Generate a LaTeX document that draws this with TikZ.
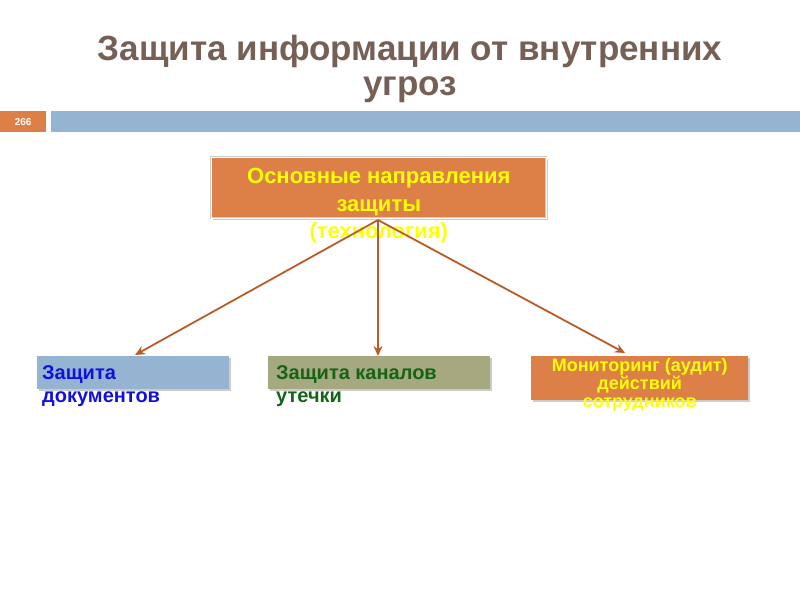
\documentclass[tikz,border=0pt]{standalone}
\usepackage{fontspec}
\setmainfont{Liberation Sans}
\usetikzlibrary{arrows.meta,shadows,positioning}
\definecolor{titlebrown}{RGB}{118,96,86}
\definecolor{slideorange}{RGB}{221,128,72}
\definecolor{barblue}{RGB}{149,180,210}
\definecolor{boxolive}{RGB}{166,168,128}
\definecolor{arrowbrown}{RGB}{184,92,40}
\definecolor{textyellow}{RGB}{255,255,0}
\definecolor{textblue}{RGB}{16,16,224}
\definecolor{textgreen}{RGB}{20,100,20}
\newcommand\tightlines{\lineskiplimit=-100pt\relax}
\tikzset{
  plainbox/.style={draw=none,inner sep=0pt,anchor=north west},
  topbox/.style={plainbox,fill=slideorange,draw=white,line width=1.5pt,
    drop shadow={shadow xshift=2pt,shadow yshift=-2pt,opacity=0.4}},
  lowbox/.style={plainbox,drop shadow={shadow xshift=2pt,shadow yshift=-2pt,opacity=0.4}},
  boxtext/.style={font=\fontsize{20}{23}\selectfont\bfseries,inner sep=0pt},
  branch/.style={draw=arrowbrown,line width=1.8pt,-{Stealth[length=10pt,width=9pt]}}
}
\begin{document}
\begin{tikzpicture}[x=1pt,y=-1pt]
  \useasboundingbox[fill=white] (0,0) rectangle (800,600);
  % title
  \node[text=titlebrown,font=\fontsize{35}{35}\selectfont\bfseries,align=center]
    (title) at (410,69) {Защита информации от внутренних\\угроз};
  % slide number and bar
  \node[plainbox,fill=slideorange,minimum width=46pt,minimum height=21pt]
    (slidenum) at (0,111) {};
  \node[text=white,font=\fontsize{10}{12}\selectfont\bfseries] (slidelabel)
    at (slidenum.center) {266};
  \node[plainbox,fill=barblue,minimum width=749pt,minimum height=21pt]
    (bar) at (51,111) {};
  % main box
  \node[topbox,draw=gray!40,double=white,double distance=1pt,line width=0.6pt,
    minimum width=335pt,minimum height=61pt] (main) at (211,157) {};
  \node[boxtext,text=textyellow,align=center,anchor=north,
    font=\fontsize{22}{27.5}\selectfont\bfseries] (maintext)
    at ([yshift=-11pt]main.north) {Основные направления\\защиты\\(технология)};
  \coordinate (apex) at (378,220);
  % lower boxes
  \node[lowbox,fill=barblue,minimum width=192pt,minimum height=33pt] (docs) at (37,356) {};
  \node[boxtext,text=textblue,align=left,anchor=north west] (docstext)
    at ([xshift=5pt,yshift=-9pt]docs.north west) {Защита\\документов};
  \node[lowbox,fill=boxolive,minimum width=222pt,minimum height=33pt] (leaks) at (268,356) {};
  \node[boxtext,text=textgreen,align=left,anchor=north west] (leakstext)
    at ([xshift=8pt,yshift=-9pt]leaks.north west) {Защита каналов\\утечки};
  \node[lowbox,fill=slideorange,minimum width=217pt,minimum height=44pt] (audit) at (531,356) {};
  \node[boxtext,text=textyellow,align=center,anchor=north,
    font=\fontsize{18}{18}\selectfont\bfseries\tightlines] (audittext)
    at ([yshift=-2pt]audit.north) {Мониторинг (аудит)\\действий\\сотрудников};
  % arrows
  \draw[branch] (apex) -- (135,355);
  \draw[branch] (apex) -- (leaks.north -| apex);
  \draw[branch] (apex) -- (625,353);
\end{tikzpicture}
\end{document}
